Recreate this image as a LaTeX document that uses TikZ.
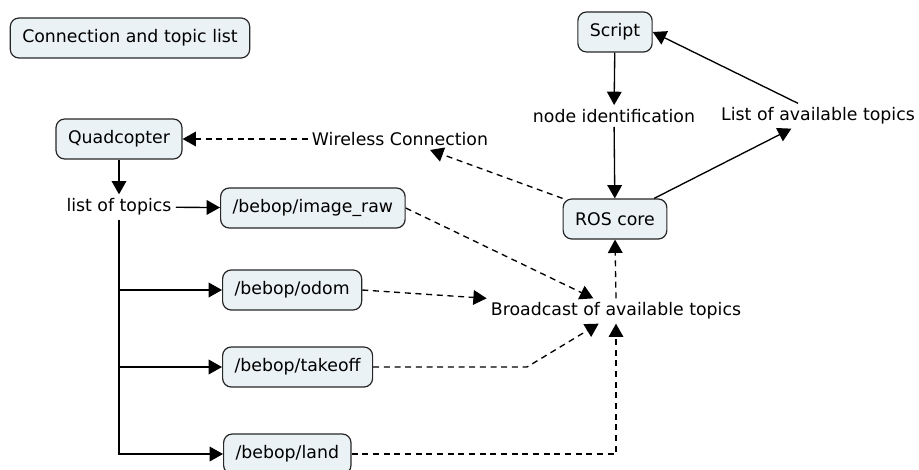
\documentclass[tikz,border=0pt]{standalone}
\usepackage{fontspec}
\setmainfont{DejaVu Sans}
\usepackage{tikz}
\usetikzlibrary{arrows.meta, shapes, positioning}

\definecolor{boxfill}{RGB}{234,242,245}

\begin{document}
\begin{tikzpicture}[
  x=0.75pt, y=-0.75pt,
  every node/.style = {font=\fontsize{13pt}{15pt}\selectfont},
  topicbox/.style = {rectangle, rounded corners=6.5pt,
                     draw=black!85, fill=boxfill, line width=0.9pt,
                     inner xsep=9pt, minimum height=30pt},
  plain/.style    = {inner sep=3pt},
  arr/.style      = {-{Triangle[length=10pt, width=11pt]}, line width=1pt},
  dasharr/.style  = {arr, dash pattern=on 4.5pt off 3.5pt},
]
\useasboundingbox (0, 0) rectangle (919, 470);

%% ══ LEFT: quadcopter and its topics ═════════════════════════════════════
\node[topicbox] at (130, 38) (title) {Connection and topic list};

\node[topicbox] at (119, 139) (quad) {Quadcopter};
\node[plain] at (400, 139) (wireless) {Wireless Connection};
\node[plain] at (119, 207) (topics) {list of topics};

\node[topicbox, anchor=west] at (220, 208) (raw)     {/bebop/image\_raw};
\node[topicbox, anchor=west] at (222, 290) (odom)    {/bebop/odom};
\node[topicbox, anchor=west] at (222, 367) (takeoff) {/bebop/takeoff};
\node[topicbox, anchor=west] at (223, 454) (land)    {/bebop/land};

\draw[arr] (quad) -- (topics);
\draw[arr] (topics) -- (raw);
\draw[arr] (topics.south) |- (land.west);
\draw[arr] (topics.south |- odom.west) -- (odom.west);
\draw[arr] (topics.south |- takeoff.west) -- (takeoff.west);

%% ══ RIGHT: script and ROS core ══════════════════════════════════════════
\node[topicbox] at (615, 32) (script) {Script};
\node[plain] at (614, 116) (nodeid) {node identification};
\node[plain] at (818, 116) (avail) {List of available topics};
\node[topicbox] at (615, 219) (roscore) {ROS core};
\node[plain] at (616, 311) (broadcast) {Broadcast of available topics};

\draw[arr] (script) -- (nodeid);
\draw[arr] (nodeid) -- (roscore);
\draw[arr] ([xshift=-10pt]roscore.north east) -- ([xshift=-20pt]avail.south);
\draw[arr] ([xshift=-15pt]avail.north) -- (script.east);

%% ── dashed links ────────────────────────────────────────────────────────
\draw[dasharr] (wireless) -- (quad);
\draw[dasharr] (roscore.north west) -- (wireless);
\draw[dasharr] (broadcast.north) -- (roscore.south);

\coordinate (tkbend) at (527, 367);
\draw[dasharr] (raw.east) -- ([xshift=-17pt]broadcast.north);
\draw[dasharr] (odom.east) -- (broadcast.north west);
\draw[dasharr] (takeoff.east) -- (tkbend) -- ([xshift=-13pt]broadcast.south);
\draw[dasharr] (land.east) -| (broadcast.south);

\end{tikzpicture}
\end{document}
